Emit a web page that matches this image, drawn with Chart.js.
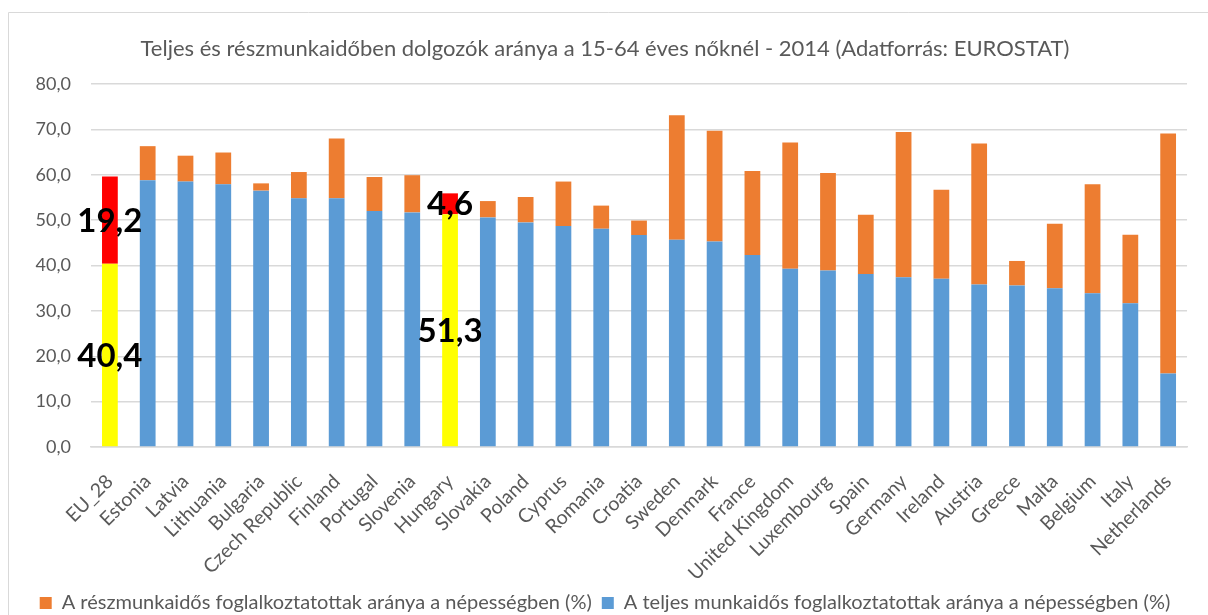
<!DOCTYPE html>
<html>
<head>
<meta charset="utf-8">
<script src="https://cdn.jsdelivr.net/npm/chart.js@4.4.1/dist/chart.umd.min.js"></script>
<style>
  html, body { margin: 0; padding: 0; background: #ffffff; }
  #wrap { position: relative; width: 1208px; height: 615px; }
  canvas { display: block; }
</style>
</head>
<body>
<div id="wrap"><canvas id="c" width="1208" height="615"></canvas></div>
<script>
const categories = ["EU_28","Estonia","Latvia","Lithuania","Bulgaria","Czech Republic","Finland","Portugal","Slovenia","Hungary","Slovakia","Poland","Cyprus","Romania","Croatia","Sweden","Denmark","France","United Kingdom","Luxembourg","Spain","Germany","Ireland","Austria","Greece","Malta","Belgium","Italy","Netherlands"];
const fullTime = [40.4,58.8,58.5,57.9,56.5,54.8,54.8,52.0,51.7,51.3,50.6,49.5,48.7,48.1,46.7,45.7,45.3,42.3,39.3,38.9,38.1,37.4,37.1,35.8,35.6,35.0,33.9,31.7,16.2];
const partTime = [19.2,7.5,5.7,7.0,1.6,5.8,13.2,7.5,8.2,4.6,3.6,5.6,9.8,5.1,3.2,27.4,24.4,18.5,27.8,21.5,13.1,32.0,19.6,31.1,5.4,14.2,24.0,15.1,52.9];
const highlighted = ["EU_28","Hungary"];
const yTicks = [0,10,20,30,40,50,60,70,80];
const titleText = "Teljes és részmunkaidőben dolgozók aránya a 15-64 éves nőknél - 2014 (Adatforrás: EUROSTAT)";
const fullLabel = "A teljes munkaidős foglalkoztatottak aránya a népességben (%)";
const partLabel = "A részmunkaidős foglalkoztatottak aránya a népességben (%)";

const FONT = "Lato, 'Open Sans', sans-serif";
const TEXT = "#595959";
const GRID = "#D9D9D9";
const BLUE = "#5B9BD5", ORANGE = "#ED7D31", YELLOW = "#FFFF00", RED = "#FF0000";
const isHi = (c) => c.type === 'data' && highlighted.includes(categories[c.dataIndex]);
const fmt = (v) => v.toFixed(1).replace('.', ',');

const frame = {
  id: 'frame',
  beforeDraw(chart) {
    const ctx = chart.ctx;
    ctx.save();
    ctx.strokeStyle = GRID;
    ctx.lineWidth = 1;
    ctx.beginPath();
    ctx.moveTo(8.5, 615);
    ctx.lineTo(8.5, 12.5);
    ctx.lineTo(1208, 12.5);
    ctx.stroke();
    ctx.restore();
  }
};

const hiLabels = {
  id: 'hiLabels',
  afterDatasetsDraw(chart) {
    const ctx = chart.ctx;
    ctx.save();
    ctx.fillStyle = '#000000';
    ctx.font = "bold 33px " + FONT;
    ctx.textAlign = 'center';
    ctx.textBaseline = 'middle';
    chart.data.datasets.forEach((ds, di) => {
      const meta = chart.getDatasetMeta(di);
      meta.data.forEach((el, i) => {
        if (!highlighted.includes(categories[i])) return;
        const y = (el.y + el.base) / 2;
        ctx.fillText(fmt(ds.data[i]), el.x, y + 1);
      });
    });
    ctx.restore();
  }
};

const legendColors = [BLUE, ORANGE];

new Chart(document.getElementById('c'), {
  type: 'bar',
  data: {
    labels: categories,
    datasets: [
      {
        label: fullLabel,
        data: fullTime,
        backgroundColor: (c) => isHi(c) ? YELLOW : BLUE,
        borderWidth: 0
      },
      {
        label: partLabel,
        data: partTime,
        backgroundColor: (c) => isHi(c) ? RED : ORANGE,
        borderWidth: 0
      }
    ]
  },
  options: {
    responsive: false,
    animation: false,
    devicePixelRatio: 1,
    layout: { padding: { left: 20, right: 18, top: 0, bottom: -8 } },
    datasets: { bar: { categoryPercentage: 1.0, barPercentage: 0.417 } },
    scales: {
      x: {
        stacked: true,
        grid: { display: false, drawTicks: false },
        border: { display: true, color: GRID, width: 1.5 },
        ticks: {
          color: TEXT,
          font: { family: FONT, size: 19.5 },
          minRotation: 45, maxRotation: 45,
          autoSkip: false,
          padding: 23
        },
        afterFit(s) { s.height = 136; }
      },
      y: {
        stacked: true,
        min: 0, max: 80,
        afterBuildTicks(s) { s.ticks = yTicks.map(v => ({ value: v })); },
        grid: { color: GRID, lineWidth: 1.5, drawTicks: false },
        border: { display: false },
        ticks: {
          color: TEXT,
          font: { family: FONT, size: 18 },
          padding: 20,
          callback: (v) => fmt(v)
        },
        afterFit(s) { s.width = 71; }
      }
    },
    plugins: {
      title: {
        display: true,
        text: titleText,
        color: TEXT,
        font: { family: FONT, size: 22, weight: 'normal' },
        padding: { top: 36, bottom: 21.6 }
      },
      legend: {
        position: 'bottom',
        reverse: true,
        labels: {
          color: TEXT,
          font: { family: FONT, size: 20 },
          boxWidth: 12, boxHeight: 12,
          padding: 10,
          generateLabels(chart) {
            const items = Chart.defaults.plugins.legend.labels.generateLabels(chart);
            items.forEach(it => {
              it.fillStyle = legendColors[it.datasetIndex];
              it.strokeStyle = legendColors[it.datasetIndex];
              it.lineWidth = 0;
            });
            return items;
          }
        }
      },
      tooltip: { enabled: false }
    }
  },
  plugins: [frame, hiLabels]
});
</script>
</body>
</html>
